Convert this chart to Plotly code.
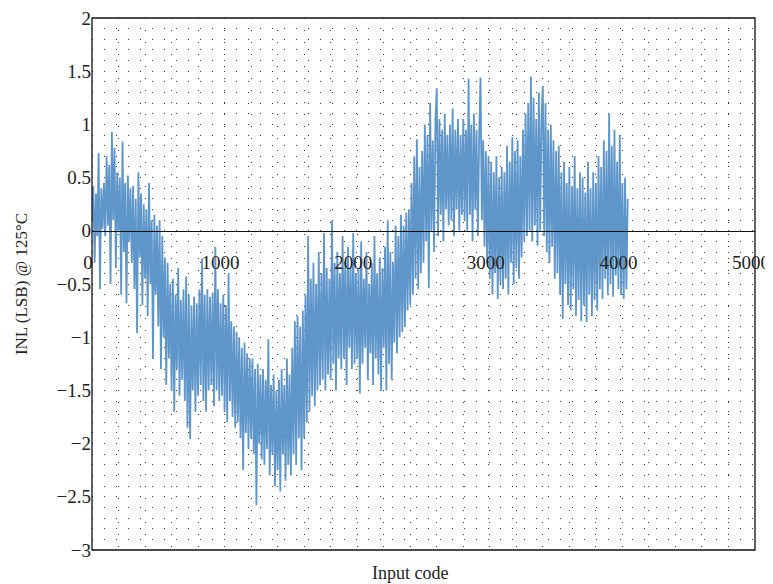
import plotly.graph_objects as go

code_step = 10
inl_blocks = [
    [0.10, 0.42, -0.30, 0.35, -0.05, 0.73, -0.55, 0.40, 0.02, 0.45],      # 0
    [-0.05, 0.70, 0.05, 0.62, -0.50, 0.93, 0.10, 0.78, -0.35, 0.55],      # 100
    [0.00, 0.50, -0.60, 0.84, -0.20, 0.45, -0.68, 0.52, -0.10, 0.40],     # 200
    [-0.30, 0.42, -0.55, 0.30, -0.96, 0.55, -0.25, 0.35, -0.70, 0.25],    # 300
    [-0.45, 0.20, -0.80, 0.45, -0.50, 0.10, -1.20, 0.15, -0.60, 0.05],    # 400
    [-0.90, 0.10, -1.30, -0.05, -1.00, -0.25, -1.45, -0.30, -1.20, -0.50],  # 500
    [-1.50, -0.45, -1.70, -0.60, -1.30, -0.35, -1.55, -0.65, -1.40, -0.55],  # 600
    [-1.60, -0.43, -1.85, -0.60, -1.96, -0.70, -1.50, -0.62, -1.70, -0.68],  # 700
    [-1.55, -0.55, -1.45, -0.26, -1.60, -0.60, -1.70, -0.55, -1.50, -0.62],  # 800
    [-1.45, -0.58, -1.65, -0.15, -1.50, -0.55, -1.60, -0.68, -1.55, -0.60],  # 900
    [-1.70, -0.70, -1.80, -0.40, -1.60, -0.85, -1.75, -0.90, -1.85, -0.95],  # 1000
    [-1.80, -1.00, -1.95, -1.10, -2.25, -1.05, -1.90, -1.15, -2.05, -1.20],  # 1100
    [-1.95, -1.20, -2.10, -1.30, -2.58, -1.25, -2.00, -1.35, -2.15, -1.30],  # 1200
    [-2.20, -1.40, -2.05, -1.02, -2.30, -1.45, -2.10, -1.35, -2.40, -1.50],  # 1300
    [-2.25, -1.40, -2.45, -1.30, -2.10, -1.45, -2.35, -1.20, -2.20, -1.35],  # 1400
    [-2.30, -1.10, -2.10, -0.85, -2.20, -0.80, -1.95, -0.90, -2.25, -0.75],  # 1500
    [-1.95, -0.60, -1.80, -0.05, -1.70, -0.45, -1.55, -0.30, -1.65, -0.50],  # 1600
    [-1.50, -0.20, -1.45, -0.40, -1.40, -0.02, -1.50, -0.35, -1.35, -0.45],  # 1700
    [-1.40, 0.10, -1.25, -0.30, -1.50, -0.20, -1.20, -0.40, -1.30, -0.05],   # 1800
    [-1.20, -0.30, -1.45, -0.15, -1.10, -0.35, -1.30, -0.02, -1.25, -0.40],  # 1900
    [-1.20, -0.35, -1.53, -0.10, -1.25, -0.45, -1.10, -0.20, -1.40, -0.50],  # 2000
    [-1.15, -0.30, -1.45, -0.05, -1.20, -0.40, -1.35, -0.25, -1.50, -0.35],  # 2100
    [-1.10, -0.15, -1.50, 0.10, -1.25, -0.20, -1.40, -0.30, -1.05, 0.05],    # 2200
    [-1.15, -0.05, -1.00, 0.15, -0.95, 0.05, -0.90, 0.17, -0.75, 0.20],      # 2300
    [-0.70, 0.45, -0.60, 0.70, -0.45, 0.86, -0.55, 0.60, -0.40, 0.75],       # 2400
    [-0.30, 1.00, -0.10, 0.90, -0.54, 1.20, 0.00, 0.85, -0.20, 1.05],        # 2500
    [1.34, -0.05, 1.05, 0.15, 0.95, -0.10, 1.10, 0.20, 0.90, 0.05],          # 2600
    [1.00, 0.10, 1.15, -0.05, 0.95, 0.20, 1.05, 0.00, 0.90, 0.15],           # 2700
    [1.05, 0.10, 0.95, 0.00, 1.43, 0.15, 1.00, -0.10, 1.10, 0.20],           # 2800
    [0.95, -0.05, 0.90, 1.44, 0.10, 0.85, -0.15, 0.75, -0.30, 0.70],         # 2900
    [-0.45, 0.65, -0.60, 0.55, -0.40, 0.70, -0.64, 0.50, -0.50, 0.60],       # 3000
    [-0.55, 0.55, -0.45, 0.80, -0.60, 0.65, -0.30, 0.88, -0.50, 0.75],       # 3100
    [-0.35, 0.85, -0.45, 0.70, -0.25, 0.95, -0.10, 1.10, -0.05, 1.20],       # 3200
    [0.00, 1.45, -0.10, 1.25, 0.05, 1.05, -0.14, 1.30, 0.00, 1.10],          # 3300
    [1.36, -0.05, 1.20, -0.20, 0.95, -0.30, 1.00, -0.15, 0.85, -0.45],       # 3400
    [0.75, -0.40, 0.80, -0.60, 0.55, -0.83, 0.65, -0.50, 0.45, -0.70],       # 3500
    [0.60, -0.75, 0.42, -0.55, 0.70, -0.80, 0.40, -0.65, 0.55, -0.85],       # 3600
    [0.50, -0.70, 0.36, -0.86, 0.65, -0.60, 0.40, -0.80, 0.55, -0.65],       # 3700
    [0.45, -0.75, 0.70, -0.55, 0.60, -0.64, 0.85, -0.45, 0.75, -0.60],       # 3800
    [1.10, -0.50, 0.80, -0.62, 0.95, -0.42, 0.65, -0.55, 0.90, -0.60],       # 3900
    [0.45, -0.64, 0.50, -0.55, 0.30],                                        # 4000
]
x_ticks = [0, 1000, 2000, 3000, 4000, 5000]
y_ticks = [-3, -2.5, -2, -1.5, -1, -0.5, 0, 0.5, 1, 1.5, 2]

inl = [v for block in inl_blocks for v in block]
codes = [i * code_step for i in range(len(inl))]

FONT = "Liberation Serif"
DOT = "1px,11px"
GRID_C = "#333333"
TXT_C = "#222222"

fig = go.Figure()
fig.add_trace(go.Scatter(
    x=codes, y=inl, mode="lines",
    line=dict(color="#5F96CA", width=1.8),
    showlegend=False, hoverinfo="skip",
))

# page body has an 8px margin, so the figure is a bit smaller than the window
fig.update_layout(
    width=765, height=576,
    margin=dict(l=84, r=18, t=10, b=34),
    plot_bgcolor="white", paper_bgcolor="white",
    font=dict(family=FONT, size=19, color=TXT_C),
    xaxis=dict(
        range=[0, 5000], anchor="free", position=0.6, automargin=False,
        tickmode="array", tickvals=x_ticks, ticktext=[str(t) for t in x_ticks],
        ticks="", ticklabelstandoff=14, ticklabelshift=-4, ticklabeloverflow="allow",
        showline=True, linecolor="#111", linewidth=1.3,
        showgrid=False,
        minor=dict(dtick=200, tick0=0, showgrid=True, gridcolor=GRID_C, gridwidth=1, griddash=DOT),
        zeroline=False, tickfont=dict(family=FONT, size=19, color=TXT_C),
    ),
    yaxis=dict(
        range=[-3, 2], tickmode="array", tickvals=y_ticks, automargin=False,
        ticktext=[("\u2212" if t < 0 else "") + ("%g" % abs(t)) for t in y_ticks],
        ticks="", showline=False, ticklabeloverflow="allow",
        showgrid=True, gridcolor=GRID_C, gridwidth=1, griddash=DOT,
        minor=dict(dtick=0.1, tick0=0, showgrid=True, gridcolor=GRID_C, gridwidth=1, griddash=DOT),
        zeroline=False, tickfont=dict(family=FONT, size=19, color=TXT_C),
        title=dict(text="INL (LSB) @ 125°C", font=dict(family=FONT, size=17, color=TXT_C), standoff=24),
    ),
    shapes=[dict(type="rect", xref="paper", yref="paper", x0=0, x1=1, y0=0, y1=1,
                 line=dict(color="#111", width=1.3), layer="above")],
    annotations=[dict(text="Input code", xref="paper", yref="paper", x=0.48, y=-0.02,
                      xanchor="center", yanchor="top", showarrow=False,
                      font=dict(family=FONT, size=18, color=TXT_C))],
)

fig.write_html("out.html")
